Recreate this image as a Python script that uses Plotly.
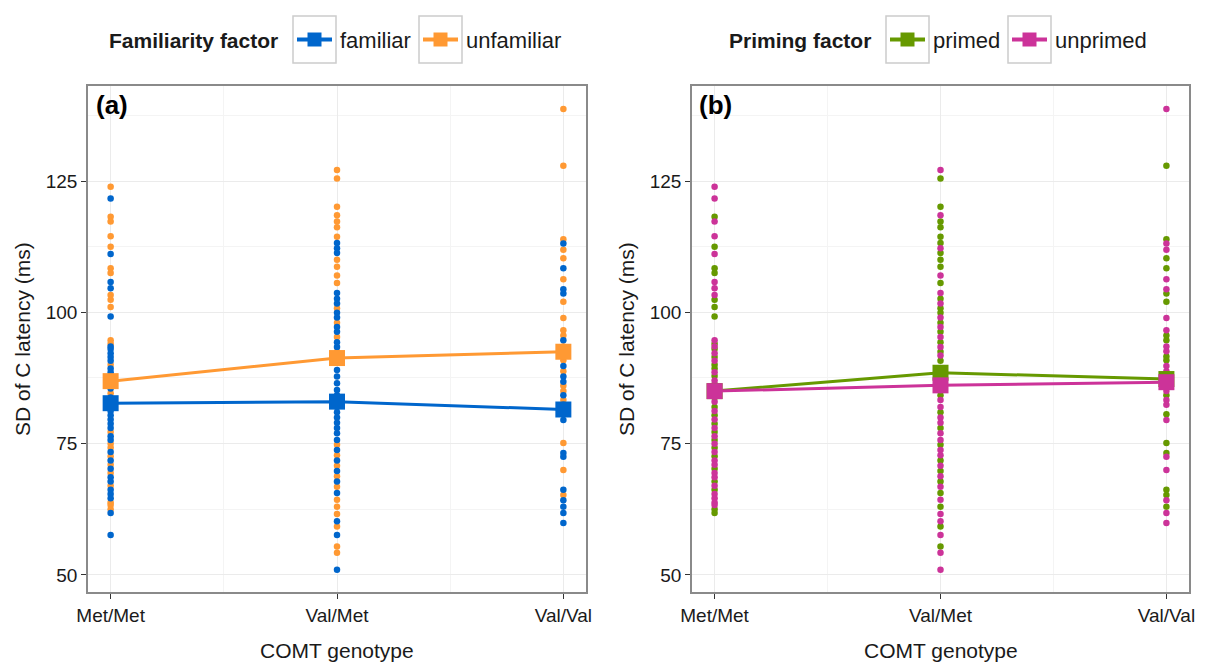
import plotly.graph_objects as go

# ---------------- data ----------------
genotypes = ["Met/Met", "Val/Met", "Val/Val"]

# individual observations: value, familiarity (F/U), priming (P/N)
met_met_vals = [123.9, 121.7, 118.2, 117.3, 114.5, 112.5, 111.1, 108.4, 107.5, 105.8, 104.6, 103.3,
                102.4, 101.0, 99.2, 94.7, 94.0, 93.5, 93.0, 92.2, 91.5, 90.8, 90.0, 89.3, 88.6,
                87.9, 87.0, 86.3, 85.5, 84.6, 83.8, 83.0, 82.0, 81.2, 80.4, 79.6, 78.8, 78.0, 77.2,
                76.4, 75.7, 75.0, 74.2, 73.4, 72.6, 71.8, 71.0, 70.2, 69.4, 68.6, 67.8, 67.0, 66.2,
                65.4, 64.6, 63.8, 63.3, 62.5, 61.8, 57.6, 55.4]
met_met_fam = list("UFUUUUFUUFFUUUF" "UUFFFFFUFFFUUFUFUFFFFFFUFFUUFUFUFUFFUFFFUUUFF")
met_met_pri = list("NNPNNPNPPNNNPPP" "NPNPNPNPPNPNPNPPNPNPNPNPNPNPNPNNPNNPNPNNNNPP")

val_met_vals = [127.1, 125.5, 120.1, 118.5, 117.3, 116.2, 114.4, 113.2, 112.2, 111.3, 110.0, 108.7,
                107.0, 105.6, 103.7, 102.6, 101.7, 100.8, 99.9, 99.0, 98.0, 97.2, 96.3, 95.3, 94.3,
                93.4, 92.5, 91.8, 90.8, 89.0, 87.8, 86.5, 85.2, 84.2, 83.3, 82.0, 81.0, 80.0, 79.0,
                78.0, 77.0, 75.7, 74.8, 73.8, 72.8, 71.8, 70.8, 69.8, 68.8, 67.8, 66.8, 65.6, 64.3,
                63.0, 61.6, 60.2, 59.2, 57.6, 55.4, 54.2, 51.0]
val_met_fam = list("UUUUUUUFFFUUUUFFFUFFUFFUFFUUUFFFFFFFFFFFFFUFUFUFUFUFUUUFUFUUF")
val_met_pri = list("NPPNPPPPNPPPNPNPNPPNPNPNPNPNPPNPNPNNPNNPNNPNNPNPNPNPNPNNPNPNN")

val_val_vals = [138.7, 127.9, 113.9, 113.1, 111.9, 110.3, 108.4, 106.3, 104.4, 103.6, 102.0, 98.9,
                96.6, 95.6, 94.7, 93.5, 92.6, 91.6, 90.9, 89.8, 88.8, 87.8, 86.8, 86.0, 85.0, 84.2,
                83.3, 82.4, 80.6, 79.5, 75.1, 73.2, 72.5, 70.0, 66.2, 65.2, 64.2, 63.0, 61.8, 59.9]
val_val_fam = list("UUUFUUFUFFUUUUFUFUUFUFFUUFUFFFUFFUFUFFFF")
val_val_pri = list("NPPNNPPNNPPNNPPNNPPNNPNPNPNNPNPPNNPPNPNN")

# means
fam_means = {"familiar": [82.7, 83.0, 81.5], "unfamiliar": [86.9, 91.3, 92.5]}
pri_means = {"primed": [85.0, 88.5, 87.3], "unprimed": [85.0, 86.1, 86.7]}

colors = {"familiar": "#0066CC", "unfamiliar": "#FF9933",
          "primed": "#669900", "unprimed": "#CC3399"}

y_ticks = [50, 75, 100, 125]
y_minor = [62.5, 87.5, 112.5, 137.5]

# ---------------- build ----------------
W, H = 1213, 664
MT, MB = 86, 72
PH = H - MT - MB

def px(x):
    return x / W

def py(y):
    return (H - MB - y) / PH

groups = [(0, met_met_vals, met_met_fam, met_met_pri),
          (1, val_met_vals, val_met_fam, val_met_pri),
          (2, val_val_vals, val_val_fam, val_val_pri)]

fig = go.Figure()

def add_points(level_key, label_map, axis):
    for lvl, name in label_map.items():
        xs, ys = [], []
        for gx, vals, fam, pri in groups:
            labs = fam if level_key == "fam" else pri
            for v, l in zip(vals, labs):
                if l == lvl:
                    xs.append(gx)
                    ys.append(v)
        fig.add_trace(go.Scatter(x=xs, y=ys, mode="markers", xaxis="x" + axis, yaxis="y" + axis,
                                 marker=dict(size=6.5, color=colors[name]), showlegend=False,
                                 hoverinfo="skip"))

add_points("fam", {"U": "unfamiliar", "F": "familiar"}, "")
add_points("pri", {"P": "primed", "N": "unprimed"}, "2")

for name in ["unfamiliar", "familiar"]:
    fig.add_trace(go.Scatter(x=[0, 1, 2], y=fam_means[name], mode="lines+markers", xaxis="x", yaxis="y",
                             line=dict(color=colors[name], width=3),
                             marker=dict(symbol="square", size=16, color=colors[name]),
                             showlegend=False))
for name in ["primed", "unprimed"]:
    fig.add_trace(go.Scatter(x=[0, 1, 2], y=pri_means[name], mode="lines+markers", xaxis="x2", yaxis="y2",
                             line=dict(color=colors[name], width=3),
                             marker=dict(symbol="square", size=16, color=colors[name]),
                             showlegend=False))

FONT = "Liberation Sans, Arial, sans-serif"
TXT = "#1a1a1a"

xaxis_common = dict(range=[-0.1, 2.1], tickvals=[0, 1, 2], ticktext=genotypes,
                    showgrid=True, gridcolor="#EBEBEB", gridwidth=1.2,
                    minor=dict(tickvals=[0.5, 1.5], showgrid=True, gridcolor="#F4F4F4", gridwidth=0.8, ticks=""),
                    zeroline=False, showline=True, linecolor="#8a8a8a", linewidth=1.5, mirror=True,
                    ticks="outside", ticklen=5, tickcolor="#333333", tickwidth=1.2,
                    tickfont=dict(family=FONT, size=19, color=TXT), automargin=False)
yaxis_common = dict(range=[46.75, 143.1], tickvals=y_ticks,
                    showgrid=True, gridcolor="#EBEBEB", gridwidth=1.2,
                    minor=dict(tickvals=y_minor, showgrid=True, gridcolor="#F4F4F4", gridwidth=0.8, ticks=""),
                    zeroline=False, showline=True, linecolor="#8a8a8a", linewidth=1.5, mirror=True,
                    ticks="outside", ticklen=5, tickcolor="#333333", tickwidth=1.2,
                    tickfont=dict(family=FONT, size=19, color=TXT), automargin=False)

fig.update_layout(
    width=W, height=H,
    margin=dict(l=0, r=0, t=MT, b=MB),
    paper_bgcolor="white", plot_bgcolor="white",
    xaxis=dict(domain=[px(88), px(586)], anchor="y", **xaxis_common),
    yaxis=dict(domain=[0, 1], anchor="x", **yaxis_common),
    xaxis2=dict(domain=[px(692), px(1189)], anchor="y2", **xaxis_common),
    yaxis2=dict(domain=[0, 1], anchor="x2", **yaxis_common),
    showlegend=False,
)

ann = []
shapes = []
# axis titles
for cx in [(88 + 586) / 2, (692 + 1189) / 2]:
    ann.append(dict(text="COMT genotype", x=px(cx), y=py(650), xref="paper", yref="paper",
                    showarrow=False, xanchor="center", yanchor="middle",
                    font=dict(family=FONT, size=21, color=TXT)))
for cx in [22, 626]:
    ann.append(dict(text="SD of C latency (ms)", x=px(cx), y=py(339), xref="paper", yref="paper",
                    showarrow=False, textangle=-90, xanchor="center", yanchor="middle",
                    font=dict(family=FONT, size=21, color=TXT)))
# panel tags
for lx, tag in [(94, "(a)"), (697, "(b)")]:
    ann.append(dict(text="<b>" + tag + "</b>", x=px(lx), y=py(105), xref="paper", yref="paper",
                    showarrow=False, xanchor="left", yanchor="middle",
                    font=dict(family=FONT, size=26, color="black")))

# legends
legends = [
    ("Familiarity factor", 107, [("familiar", 293), ("unfamiliar", 419)]),
    ("Priming factor", 727, [("primed", 886), ("unprimed", 1008)]),
]
KW, KT, KB = 43, 16, 63
for title, tx, items in legends:
    ann.append(dict(text="<b>" + title + "</b>", x=px(tx), y=py(40), xref="paper", yref="paper",
                    showarrow=False, xanchor="left", yanchor="middle",
                    font=dict(family=FONT, size=21, color=TXT)))
    for name, bx in items:
        shapes.append(dict(type="rect", xref="paper", yref="paper",
                           x0=px(bx), x1=px(bx + KW), y0=py(KB), y1=py(KT),
                           line=dict(color="#CCCCCC", width=1.5), fillcolor="white"))
        cy = (KT + KB) / 2
        shapes.append(dict(type="line", xref="paper", yref="paper",
                           x0=px(bx + 4), x1=px(bx + KW - 4), y0=py(cy), y1=py(cy),
                           line=dict(color=colors[name], width=4)))
        shapes.append(dict(type="rect", xref="paper", yref="paper",
                           x0=px(bx + KW / 2 - 7), x1=px(bx + KW / 2 + 7), y0=py(cy + 7), y1=py(cy - 7),
                           line=dict(width=0), fillcolor=colors[name]))
        ann.append(dict(text=name, x=px(bx + KW + 2), y=py(40), xref="paper", yref="paper",
                        showarrow=False, xanchor="left", yanchor="middle",
                        font=dict(family=FONT, size=22, color=TXT)))

fig.update_layout(annotations=ann, shapes=shapes)
fig.write_html("out.html", config={"displayModeBar": False},
               post_script="document.body.style.margin='0';")
